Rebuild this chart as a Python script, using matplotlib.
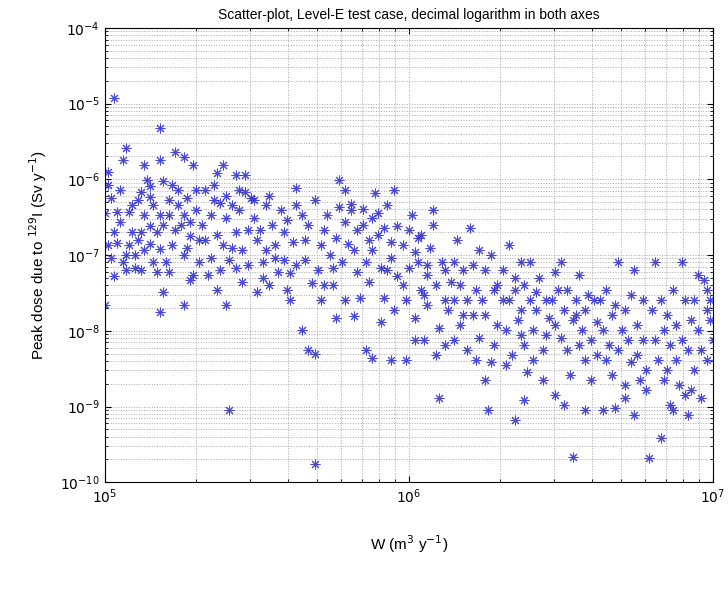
import numpy as np
import matplotlib
matplotlib.use('Agg')
from matplotlib import pyplot as plt
from matplotlib.ticker import LogLocator, NullFormatter

plt.rcParams['font.family'] = ['Liberation Sans', 'DejaVu Sans']

# decimal logarithm of W (m3/y) and of the peak dose (Sv/y)
log_w = [
    5.01, 5.01, 5.03, 5.00, 5.01, 5.00, 5.02, 5.03, 5.04, 5.05, 5.06, 5.07, 5.07, 5.06, 5.08, 5.08,
    5.05, 5.02, 5.04, 5.09, 5.09, 5.07, 5.10, 5.03,
    5.11, 5.12, 5.13, 5.13, 5.15, 5.15, 5.16, 5.17, 5.18, 5.18, 5.19, 5.19, 5.12, 5.10, 5.14, 5.13,
    5.16, 5.17, 5.12, 5.15, 5.18, 5.11, 5.18, 5.15, 5.19,
    5.21, 5.21, 5.22, 5.23, 5.24, 5.25, 5.26, 5.26, 5.27, 5.28, 5.28, 5.29, 5.30, 5.30, 5.31, 5.18,
    5.20, 5.21, 5.26, 5.26, 5.23, 5.24, 5.28, 5.27, 5.31, 5.22, 5.29,
    5.32, 5.33, 5.35, 5.35, 5.36, 5.37, 5.37, 5.38, 5.38, 5.39, 5.40, 5.40, 5.41, 5.42, 5.43, 5.43,
    5.44, 5.44, 5.45, 5.46, 5.46, 5.47, 5.48, 5.37, 5.33, 5.34, 5.40, 5.42, 5.45, 5.47, 5.36, 5.43,
    5.39, 5.41,
    5.49, 5.49, 5.50, 5.51, 5.52, 5.53, 5.53, 5.54, 5.54, 5.55, 5.56, 5.57, 5.58, 5.59, 5.59, 5.60,
    5.61, 5.62, 5.63, 5.63, 5.63, 5.60, 5.52, 5.56, 5.50, 5.61,
    5.65, 5.66, 5.66, 5.67, 5.68, 5.69, 5.69, 5.70, 5.71, 5.71, 5.72, 5.73, 5.74, 5.75, 5.76, 5.76,
    5.77, 5.78, 5.79, 5.79, 5.80, 5.81, 5.65, 5.67, 5.69, 5.72, 5.75, 5.77, 5.79,
    5.81, 5.82, 5.83, 5.83, 5.84, 5.85, 5.85, 5.86, 5.87, 5.87, 5.88, 5.88, 5.89, 5.90, 5.90, 5.91,
    5.92, 5.92, 5.93, 5.94, 5.94, 5.95, 5.96, 5.96, 5.82, 5.86, 5.88, 5.91, 5.94, 5.93, 5.95,
    5.98, 5.98, 5.99, 6.00, 6.00, 6.01, 6.02, 6.02, 6.03, 6.04, 6.04, 6.05, 6.06, 6.06, 6.07, 6.08,
    6.08, 6.09, 6.10, 6.10, 6.11, 6.12, 6.12, 6.13, 5.99, 6.02, 6.05, 6.09, 6.12, 6.03, 6.06,
    6.14, 6.15, 6.15, 6.16, 6.17, 6.17, 6.18, 6.19, 6.19, 6.20, 6.21, 6.21, 6.22, 6.23, 6.23, 6.24,
    6.25, 6.25, 6.26, 6.27, 6.27, 6.28, 6.29, 6.29, 6.15, 6.18, 6.22, 6.25, 6.28,
    6.31, 6.31, 6.32, 6.33, 6.33, 6.34, 6.35, 6.35, 6.36, 6.37, 6.37, 6.38, 6.38, 6.39, 6.40, 6.40,
    6.41, 6.42, 6.42, 6.43, 6.44, 6.44, 6.45, 6.46, 6.35, 6.32, 6.38, 6.41, 6.45, 6.37,
    6.47, 6.48, 6.48, 6.49, 6.50, 6.50, 6.51, 6.52, 6.52, 6.53, 6.54, 6.54, 6.55, 6.56, 6.56, 6.57,
    6.58, 6.58, 6.59, 6.60, 6.60, 6.61, 6.62, 6.62, 6.51, 6.58, 6.55, 6.48,
    6.63, 6.64, 6.65, 6.65, 6.66, 6.67, 6.67, 6.68, 6.69, 6.69, 6.70, 6.71, 6.71, 6.72, 6.73, 6.73,
    6.74, 6.75, 6.75, 6.76, 6.77, 6.77, 6.78, 6.79, 6.64, 6.68, 6.71, 6.74, 6.78,
    6.80, 6.81, 6.81, 6.82, 6.83, 6.83, 6.84, 6.85, 6.85, 6.86, 6.87, 6.87, 6.88, 6.88, 6.89, 6.90,
    6.90, 6.91, 6.92, 6.92, 6.93, 6.94, 6.94, 6.95, 6.96, 6.96, 6.97, 6.98, 6.98, 6.99, 7.00, 6.99,
    6.98, 6.95, 6.93, 6.91, 6.84, 6.86,
]
log_dose = [
    -5.90, -6.07, -4.93, -6.44, -6.87, -7.66, -6.25, -6.70, -6.84, -6.56, -7.09, -7.20, -5.59, -5.74, -6.43, -6.87,
    -6.14, -7.04, -6.43, -6.34, -6.70, -7.00, -7.17, -7.28,
    -6.27, -6.70, -6.47, -6.93, -6.62, -6.23, -6.34, -6.70, -5.32, -5.74, -6.02, -7.49, -7.20, -7.00, -6.01, -5.81,
    -7.09, -7.22, -6.17, -6.85, -6.47, -6.80, -6.92, -6.09, -6.60,
    -6.27, -6.47, -6.87, -5.64, -6.14, -6.60, -7.00, -6.47, -6.25, -7.33, -6.75, -5.81, -6.41, -6.14, -6.80, -7.75,
    -7.09, -7.22, -7.66, -5.70, -6.67, -6.34, -6.56, -6.91, -7.09, -6.08, -7.26,
    -6.60, -6.14, -7.04, -6.47, -6.27, -6.74, -7.46, -7.20, -6.31, -6.87, -6.22, -6.51, -7.07, -6.34, -6.70, -5.94,
    -6.14, -6.41, -7.36, -5.94, -6.17, -6.67, -6.25, -5.92, -6.80, -7.26, -7.66, -6.91, -6.93, -7.13, -6.07, -7.17,
    -5.81, -9.04,
    -6.51, -6.27, -6.80, -6.67, -7.09, -6.34, -6.93, -7.40, -6.22, -6.60, -6.87, -7.22, -6.41, -7.07, -6.70, -6.54,
    -7.59, -6.83, -6.11, -6.34, -7.13, -7.46, -7.30, -7.04, -7.49, -7.24,
    -6.47, -6.80, -7.07, -6.60, -7.37, -9.76, -6.27, -7.20, -6.87, -7.59, -6.67, -6.47, -7.00, -7.40, -6.78, -7.83,
    -6.01, -7.09, -7.59, -6.56, -6.85, -6.41, -7.99, -8.26, -8.31, -7.40, -7.17, -6.37, -6.14,
    -6.33, -6.93, -7.22, -6.67, -7.57, -6.39, -6.60, -7.09, -6.80, -7.36, -6.51, -6.93, -6.18, -6.44, -6.74, -7.17,
    -7.57, -6.64, -6.34, -7.04, -6.83, -7.73, -6.62, -7.28, -7.81, -8.26, -8.36, -7.89, -8.39, -7.20, -6.14,
    -6.87, -7.40, -7.59, -6.67, -7.17, -6.47, -7.83, -6.96, -7.09, -7.46, -6.74, -8.12, -7.26, -7.66, -6.91, -6.60,
    -6.41, -7.40, -7.96, -8.89, -7.09, -7.59, -7.20, -7.73, -8.39, -8.12, -7.53, -8.32, -8.19, -6.78, -7.13,
    -7.36, -7.09, -7.59, -6.80, -7.92, -7.40, -7.20, -8.26, -7.59, -6.64, -7.13, -7.79, -7.46, -6.93, -8.10, -7.59,
    -7.20, -7.79, -9.04, -7.00, -8.41, -7.46, -7.92, -7.40, -8.12, -7.79, -8.39, -8.65, -8.19,
    -7.59, -7.20, -7.99, -6.87, -7.59, -8.32, -7.30, -7.46, -7.86, -7.09, -7.73, -8.19, -7.40, -8.55, -7.59, -7.09,
    -7.99, -7.49, -7.73, -7.30, -8.26, -8.65, -7.59, -7.83, -9.18, -8.45, -8.92, -8.39, -8.06, -8.06,
    -7.59, -7.22, -7.92, -7.46, -8.10, -7.09, -7.73, -8.26, -7.46, -8.59, -7.86, -9.66, -7.59, -8.19, -7.26, -7.99,
    -8.39, -7.73, -7.53, -8.65, -8.12, -7.59, -7.89, -8.32, -8.98, -9.05, -7.79, -8.85,
    -7.59, -7.99, -8.39, -7.46, -8.19, -7.79, -8.59, -7.66, -7.09, -8.26, -7.99, -8.72, -7.73, -8.12, -8.41, -7.53,
    -7.20, -8.32, -7.92, -8.65, -8.12, -7.59, -8.52, -9.68, -9.05, -9.02, -8.89, -9.11, -8.78,
    -7.73, -8.12, -7.09, -8.39, -9.41, -7.59, -7.99, -8.52, -7.79, -8.19, -9.05, -7.46, -8.39, -7.92, -8.72, -7.09,
    -8.12, -7.59, -9.11, -8.26, -7.86, -8.52, -7.59, -7.99, -8.89, -8.26, -7.33, -7.73, -8.39, -7.86, -8.12, -7.59,
    -7.46, -7.26, -8.78, -8.85, -8.65, -8.98,
]

x_ticks = [1e5, 1e6, 1e7]
x_tick_labels = ['$10^{5}$', '$10^{6}$', '$10^{7}$']
y_ticks = [1e-10, 1e-9, 1e-8, 1e-7, 1e-6, 1e-5, 1e-4]
y_tick_labels = ['$10^{-10}$', '$10^{-9}$', '$10^{-8}$', '$10^{-7}$', '$10^{-6}$', '$10^{-5}$', '$10^{-4}$']

w = 10.0 ** np.array(log_w)
dose = 10.0 ** np.array(log_dose)

fig = plt.figure(figsize=(7.28, 5.91), dpi=100)
ax = fig.add_axes([0.144, 0.184, 0.835, 0.769])

# matlab style asterisk: 8 spokes
ax.plot(w, dose, linestyle='none', marker=(8, 2, 0), markersize=7,
        markeredgecolor='#2a2ad0', markeredgewidth=0.75, alpha=0.85)

ax.set_xscale('log')
ax.set_yscale('log')
ax.set_xlim(1e5, 1e7)
ax.set_ylim(1e-10, 1e-4)

ax.set_xticks(x_ticks)
ax.set_xticklabels(x_tick_labels)
ax.set_yticks(y_ticks)
ax.set_yticklabels(y_tick_labels)
ax.xaxis.set_minor_locator(LogLocator(base=10, subs=np.arange(2, 10)))
ax.yaxis.set_minor_locator(LogLocator(base=10, subs=np.arange(2, 10)))
ax.xaxis.set_minor_formatter(NullFormatter())
ax.yaxis.set_minor_formatter(NullFormatter())

ax.grid(True, which='both', linestyle=':', color='#a8a8a8', linewidth=0.7)
ax.tick_params(which='both', direction='in', top=True, right=True, labelsize=10)
ax.tick_params(which='major', length=4)
ax.tick_params(which='minor', length=2)
for s in ax.spines.values():
    s.set_linewidth(0.8)

ax.set_title('Scatter-plot, Level-E test case, decimal logarithm in both axes', fontsize=10)
ax.set_xlabel('W (m$^3$ y$^{-1}$)', fontsize=11, labelpad=20)
ax.set_ylabel('Peak dose due to $^{129}$I (Sv y$^{-1}$)', fontsize=11, labelpad=8)

fig.savefig('out.png', dpi=100)
